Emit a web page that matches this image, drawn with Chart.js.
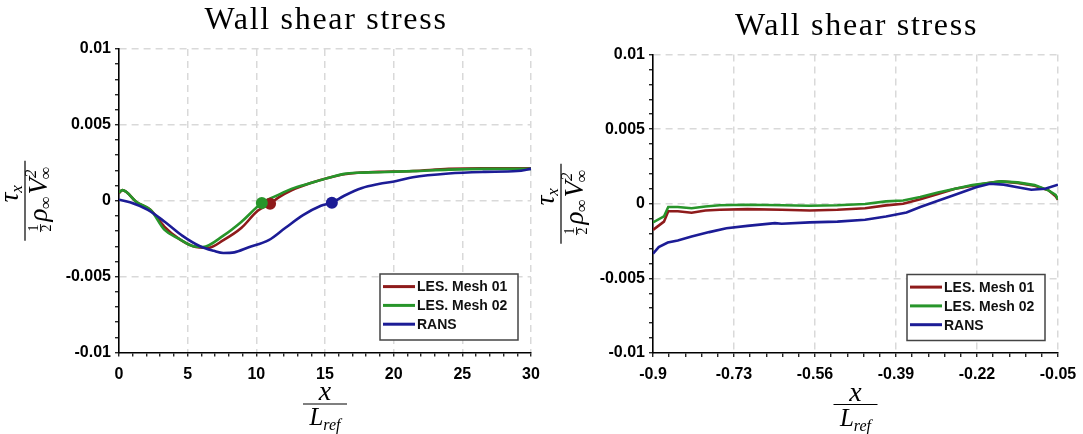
<!DOCTYPE html>
<html>
<head>
<meta charset="utf-8">
<title>Wall shear stress</title>
<script src="https://cdn.jsdelivr.net/npm/chart.js@4.4.1/dist/chart.umd.min.js"></script>
<style>
  html, body { margin: 0; padding: 0; background: #fff; }
  body { width: 1083px; height: 434px; position: relative; overflow: hidden; }
  canvas { position: absolute; top: 0; }
  #left { left: 0; z-index: 1; }
  #right { left: 541px; z-index: 2; }
</style>
</head>
<body>
<canvas id="left" width="560" height="434"></canvas>
<canvas id="right" width="570" height="434"></canvas>
<script>
// Series names and colours
const SERIES_LABELS = ['LES. Mesh 01', 'LES. Mesh 02', 'RANS'];
const SERIES_COLORS = ['#8e1b1b', '#27952a', '#1c1c96'];

// Left panel: x / L_ref from 0 to 30
const LEFT_MESH01_X = [0, 0.25, 1.3, 2.3, 3.3, 4.35, 5.4, 6.5, 7.6, 8.9, 10.1, 11.0, 11.6, 12.6, 13.9, 15.2, 16.4, 17.4, 18.9, 21.4, 24, 26.5, 30];
const LEFT_MESH01_Y = [0.0005, 0.0007, -0.0001, -0.0006, -0.0017, -0.0025, -0.003, -0.0031, -0.0026, -0.0018, -0.00066, -0.0002, 0.0002, 0.0007, 0.00115, 0.0015, 0.00175, 0.00185, 0.0019, 0.00196, 0.0021, 0.00214, 0.00214];
const LEFT_MESH02_X = [0, 0.25, 1.3, 2.3, 3.3, 4.35, 5.4, 6.1, 7.6, 8.9, 10.4, 11.4, 12.6, 13.9, 15.2, 16.4, 17.4, 18.9, 21.4, 24, 26.5, 30];
const LEFT_MESH02_Y = [0.00055, 0.0007, -0.0001, -0.0006, -0.0019, -0.0025, -0.003, -0.00305, -0.0023, -0.0014, -0.00015, 0.0003, 0.0008, 0.00115, 0.0015, 0.00177, 0.00185, 0.00188, 0.00195, 0.00205, 0.0021, 0.0021];
const LEFT_RANS_X = [0, 0.8, 2.1, 3.35, 4.6, 5.9, 6.9, 7.6, 8.4, 9.4, 10.9, 12.1, 13.4, 14.7, 15.5, 16.4, 17.7, 18.9, 20.2, 21.4, 24, 26.5, 29, 30];
const LEFT_RANS_Y = [0.00007, -0.0001, -0.0006, -0.0014, -0.0023, -0.003, -0.0033, -0.00344, -0.0034, -0.00308, -0.0026, -0.0018, -0.00095, -0.00033, -0.00012, 0.00033, 0.00084, 0.0011, 0.0013, 0.00155, 0.0018, 0.0019, 0.00196, 0.0021];
// zero-crossing markers (mesh 01, mesh 02, RANS)
const LEFT_MARKER_X = [11.0, 10.4, 15.5];
const LEFT_MARKER_Y = [-0.0002, -0.00015, -0.00013];

// Right panel: x / L_ref from -0.9 to -0.05
const RIGHT_LES_X = [-0.9, -0.877, -0.868, -0.848, -0.819, -0.79, -0.76, -0.702, -0.63, -0.571, -0.513, -0.455, -0.411, -0.375, -0.339, -0.302, -0.266, -0.23, -0.193, -0.171, -0.135, -0.099, -0.07, -0.055, -0.05];
const RIGHT_MESH01_Y = [-0.00175, -0.0012, -0.0005, -0.0005, -0.0006, -0.00045, -0.0004, -0.00036, -0.0004, -0.00045, -0.0004, -0.0003, -0.00011, 0, 0.0003, 0.00065, 0.001, 0.0012, 0.0014, 0.0015, 0.0014, 0.0012, 0.0009, 0.0005, 0.00027];
const RIGHT_MESH02_Y = [-0.00125, -0.00085, -0.00022, -0.00022, -0.0003, -0.00018, -0.0001, -0.00007, -0.0001, -0.00013, -0.0001, -0.00002, 0.00016, 0.00022, 0.00045, 0.00076, 0.001, 0.00125, 0.0014, 0.0015, 0.00143, 0.00125, 0.0009, 0.0006, 0.0003];
const RIGHT_RANS_X = [-0.9, -0.888, -0.869, -0.848, -0.819, -0.782, -0.746, -0.702, -0.644, -0.63, -0.571, -0.513, -0.455, -0.411, -0.368, -0.339, -0.302, -0.266, -0.222, -0.193, -0.164, -0.135, -0.106, -0.077, -0.05];
const RIGHT_RANS_Y = [-0.00335, -0.0029, -0.0026, -0.00246, -0.0022, -0.0019, -0.00164, -0.00148, -0.0013, -0.00134, -0.00125, -0.0012, -0.00107, -0.00085, -0.00058, -0.00022, 0.0002, 0.0006, 0.0011, 0.00134, 0.00128, 0.0011, 0.00094, 0.001, 0.00128];

// Axis ranges (major label every 5 minor ticks)
const Y_RANGE = [-0.01, 0.01];
const Y_MINOR_STEP = 0.001;
const LEFT_X_RANGE = [0, 30];
const LEFT_X_MINOR_STEP = 1;
const RIGHT_X_RANGE = [-0.9, -0.05];
const RIGHT_X_MINOR_STEP = 0.034;
const MINOR_PER_MAJOR = 5;

const GRID_COLOR = '#d9d9d9';
const TICK_FONT = { family: 'Liberation Sans', weight: 'bold', size: 16 };
const MATH_FONT = '"Liberation Serif", "DejaVu Serif", serif';

function toPoints(xs, ys) {
    return xs.map((x, i) => ({ x: x, y: ys[i] }));
}

function curve(label, color, xs, ys, order, smooth) {
    return {
        label: label,
        data: toPoints(xs, ys),
        showLine: true,
        borderColor: color,
        backgroundColor: color,
        borderWidth: 2.6,
        pointRadius: 0,
        tension: smooth ? 0.35 : 0,
        cubicInterpolationMode: smooth ? 'monotone' : 'default',
        order: order,
        inLegend: true
    };
}

function marker(color, x, y, order) {
    return {
        data: [{ x: x, y: y }],
        showLine: false,
        pointRadius: 6,
        pointBorderWidth: 0,
        backgroundColor: color,
        borderColor: color,
        order: order,
        inLegend: false
    };
}

function axis(range, step, format, fitSize, isX) {
    return {
        type: 'linear',
        min: range[0],
        max: range[1],
        afterFit: function(scale) {
            if (isX) scale.height = fitSize; else scale.width = fitSize;
        },
        grid: {
            color: ctx => (ctx.index > 0 && ctx.index % MINOR_PER_MAJOR === 0) ? GRID_COLOR : 'rgba(0,0,0,0)',
            lineWidth: 1.5,
            tickColor: '#000',
            tickWidth: 1.2,
            tickLength: 4
        },
        border: { display: true, color: '#000', width: 1.6, dash: [7, 5] },
        ticks: {
            stepSize: step,
            autoSkip: false,
            maxRotation: 0,
            padding: isX ? 8 : 4,
            color: '#000',
            font: TICK_FONT,
            callback: (v, i) => i % MINOR_PER_MAJOR === 0 ? format(v) : ''
        }
    };
}

const formatY = v => String(Math.round(v * 1000) / 1000);
const formatLeftX = v => String(Math.round(v));
const formatRightX = v => String(Math.round(v * 100) / 100);

// fraction tau_x / (1/2 rho V^2), drawn rotated
function drawYFraction(ctx, bx, by) {
    const big = 'italic 27px ' + MATH_FONT;
    const sub = 'italic 17px ' + MATH_FONT;
    const tiny = '14px ' + MATH_FONT;
    ctx.save();
    ctx.translate(bx, by);
    ctx.rotate(-Math.PI / 2);
    ctx.fillStyle = '#000';
    ctx.strokeStyle = '#000';
    ctx.lineWidth = 1.2;
    ctx.beginPath();
    ctx.moveTo(-40, 0);
    ctx.lineTo(40, 0);
    ctx.stroke();
    ctx.textAlign = 'left';
    ctx.textBaseline = 'alphabetic';

    // numerator
    ctx.font = big;
    const tauW = ctx.measureText('τ').width;
    ctx.font = sub;
    const xW = ctx.measureText('x').width;
    let u = 7 - (tauW + xW) / 2;
    ctx.font = big;
    ctx.fillText('τ', u, -7);
    ctx.font = sub;
    ctx.fillText('x', u + tauW, -3);

    // denominator
    const base = 22;
    ctx.font = tiny;
    const oneW = ctx.measureText('2').width;
    ctx.font = big;
    const rhoW = ctx.measureText('ρ').width;
    const vW = ctx.measureText('V').width;
    ctx.font = sub;
    const infW = ctx.measureText('∞').width;
    const total = oneW + 3 + rhoW + infW + 2 + vW + infW;
    u = 2 - total / 2;
    ctx.font = tiny;
    ctx.fillText('1', u, base - 9);
    ctx.fillText('2', u, base + 4);
    ctx.lineWidth = 0.9;
    ctx.beginPath();
    ctx.moveTo(u - 0.5, base - 6.5);
    ctx.lineTo(u + oneW + 0.5, base - 6.5);
    ctx.stroke();
    u += oneW + 3;
    ctx.font = big;
    ctx.fillText('ρ', u, base);
    u += rhoW;
    ctx.font = sub;
    ctx.fillText('∞', u, base + 4);
    u += infW + 2;
    ctx.font = big;
    ctx.fillText('V', u, base);
    u += vW;
    ctx.font = sub;
    ctx.fillText('∞', u - 1, base + 4);
    ctx.fillText('2', u, base - 11);
    ctx.restore();
}

// fraction x / L_ref below the x axis
function drawXFraction(ctx, cx, barY) {
    ctx.save();
    ctx.fillStyle = '#000';
    ctx.strokeStyle = '#000';
    ctx.lineWidth = 1.2;
    ctx.beginPath();
    ctx.moveTo(cx - 22, barY);
    ctx.lineTo(cx + 22, barY);
    ctx.stroke();
    ctx.textBaseline = 'alphabetic';
    ctx.textAlign = 'center';
    ctx.font = 'italic 28px ' + MATH_FONT;
    ctx.fillText('x', cx, barY - 4);
    ctx.textAlign = 'left';
    ctx.font = 'italic 25px ' + MATH_FONT;
    const lW = ctx.measureText('L').width;
    ctx.font = 'italic 16px ' + MATH_FONT;
    const refW = ctx.measureText('ref').width;
    const start = cx - (lW + refW) / 2;
    ctx.font = 'italic 25px ' + MATH_FONT;
    ctx.fillText('L', start, barY + 21);
    ctx.font = 'italic 16px ' + MATH_FONT;
    ctx.fillText('ref', start + lW, barY + 26);
    ctx.restore();
}

function drawLegend(ctx, chart) {
    const area = chart.chartArea;
    const items = chart.data.datasets.filter(d => d.inLegend)
        .sort((a, b) => SERIES_LABELS.indexOf(a.label) - SERIES_LABELS.indexOf(b.label));
    const w = 138, h = 66;
    const x = area.right - 13 - w;
    const y = area.bottom - 12.5 - h;
    ctx.save();
    ctx.fillStyle = '#fff';
    ctx.fillRect(x, y, w, h);
    ctx.strokeStyle = '#444';
    ctx.lineWidth = 1.5;
    ctx.strokeRect(x, y, w, h);
    ctx.font = 'bold 14px "Liberation Sans"';
    ctx.textAlign = 'left';
    ctx.textBaseline = 'middle';
    items.forEach((d, i) => {
        const ry = y + 12.6 + i * 18.8;
        ctx.strokeStyle = d.borderColor;
        ctx.lineWidth = 3;
        ctx.beginPath();
        ctx.moveTo(x + 3, ry);
        ctx.lineTo(x + 35, ry);
        ctx.stroke();
        ctx.fillStyle = '#111';
        ctx.fillText(d.label, x + 37, ry + 1);
    });
    ctx.restore();
}

const figureText = {
    id: 'figureText',
    afterDraw(chart, args, opts) {
        const ctx = chart.ctx;
        const area = chart.chartArea;
        const cx = (area.left + area.right) / 2;
        ctx.save();
        ctx.fillStyle = '#000';
        ctx.font = '32px ' + MATH_FONT;
        ctx.letterSpacing = '1.7px';
        ctx.textAlign = 'center';
        ctx.textBaseline = 'alphabetic';
        ctx.fillText(opts.title, cx + 1, area.top - 20);
        ctx.letterSpacing = '0px';
        ctx.restore();
        drawYFraction(ctx, opts.yLabelX, (area.top + area.bottom) / 2);
        drawXFraction(ctx, cx, area.bottom + 51.5);
        drawLegend(ctx, chart);
    }
};

function makeChart(id, datasets, xAxis, padding, yLabelX) {
    return new Chart(document.getElementById(id), {
        type: 'scatter',
        data: { datasets: datasets },
        options: {
            responsive: false,
            animation: false,
            layout: { padding: padding },
            plugins: {
                legend: { display: false },
                tooltip: { enabled: false },
                figureText: { title: 'Wall shear stress', yLabelX: yLabelX }
            },
            scales: {
                x: xAxis,
                y: axis(Y_RANGE, Y_MINOR_STEP, formatY, 60, false)
            }
        },
        plugins: [figureText]
    });
}

makeChart('left', [
    curve(SERIES_LABELS[0], SERIES_COLORS[0], LEFT_MESH01_X, LEFT_MESH01_Y, 4, true),
    curve(SERIES_LABELS[1], SERIES_COLORS[1], LEFT_MESH02_X, LEFT_MESH02_Y, 3, true),
    curve(SERIES_LABELS[2], SERIES_COLORS[2], LEFT_RANS_X, LEFT_RANS_Y, 2, true),
    marker(SERIES_COLORS[0], LEFT_MARKER_X[0], LEFT_MARKER_Y[0], 1),
    marker(SERIES_COLORS[1], LEFT_MARKER_X[1], LEFT_MARKER_Y[1], 0),
    marker(SERIES_COLORS[2], LEFT_MARKER_X[2], LEFT_MARKER_Y[2], 0)
], axis(LEFT_X_RANGE, LEFT_X_MINOR_STEP, formatLeftX, 40, true),
   { left: 59, right: 29, top: 49, bottom: 41.5 }, 25);

makeChart('right', [
    curve(SERIES_LABELS[0], SERIES_COLORS[0], RIGHT_LES_X, RIGHT_MESH01_Y, 4, false),
    curve(SERIES_LABELS[1], SERIES_COLORS[1], RIGHT_LES_X, RIGHT_MESH02_Y, 3, false),
    curve(SERIES_LABELS[2], SERIES_COLORS[2], RIGHT_RANS_X, RIGHT_RANS_Y, 2, false)
], axis(RIGHT_X_RANGE, RIGHT_X_MINOR_STEP, formatRightX, 40, true),
   { left: 52, right: 53, top: 54.5, bottom: 41 }, 20);
</script>
</body>
</html>
